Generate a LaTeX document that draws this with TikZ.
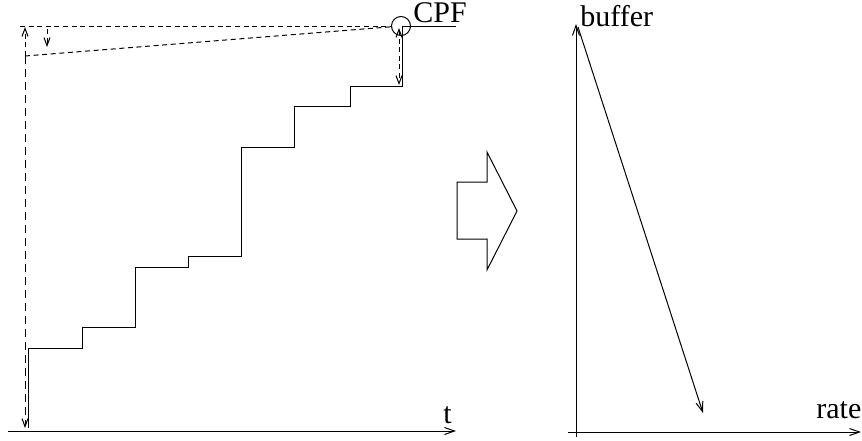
\documentclass[tikz,border=0pt]{standalone}
\usepackage{fontspec}
\setmainfont{Liberation Serif}
\usetikzlibrary{arrows.meta}

\begin{document}
\begin{tikzpicture}[
  x=0.5pt, y=-0.5pt,
  axis/.style   ={line width=0.5pt, -{Straight Barb[length=5pt,width=3.5pt]}},
  stair/.style  ={line width=0.5pt},
  dsh/.style    ={line width=0.5pt, dash pattern=on 2.5pt off 1.8pt},
  dsh_long/.style={line width=0.5pt, dash pattern=on 4pt off 2.5pt},
  barb/.style   ={-{Straight Barb[length=4pt,width=3pt]}},
  barbs/.style  ={{Straight Barb[length=4pt,width=3pt]}-{Straight Barb[length=4pt,width=3pt]}},
  lbl/.style    ={font=\fontsize{15}{17}\selectfont, inner sep=0pt, anchor=base west},
]
  \useasboundingbox (0,0) rectangle (862,440);

  % left: staircase over time
  \coordinate (t_org)   at (8,431);
  \coordinate (t_end)   at (456,431);
  \coordinate (top_l)   at (20,26);
  \coordinate (slope_l) at (25,56);
  \coordinate (up_l)    at (25,27);
  \coordinate (down_l)  at (25,428);
  \coordinate (v_top)   at (47,29);
  \coordinate (v_bot)   at (47,47);
  \coordinate (cpf)     at (401,26);
  \coordinate (gap_top) at (399,28);
  \coordinate (gap_bot) at (399,85);

  \node[draw, circle, line width=0.5pt, minimum size=9.5pt, inner sep=0pt] (cpf_ring) at (cpf) {};
  \node[lbl] (cpf_lbl) at (413,22)  {CPF};
  \node[lbl] (t_lbl)   at (443,423) {t};

  \draw[axis] (t_org) -- (t_end);
  \draw[stair] (28,428) -- (28,348) -- (82,348) -- (82,327) -- (135,327) -- (135,267)
    -- (188,267) -- (188,256) -- (241,256) -- (241,147) -- (294,147) -- (294,106)
    -- (350,106) -- (350,86) -- (402,86) -- (402,26) -- (456,26);

  \draw[dsh] (top_l) -- (cpf_ring);
  \draw[dsh] (slope_l) -- (cpf_ring);
  \draw[dsh, barb] (slope_l) -- (up_l);
  \draw[dsh_long, barb] (slope_l) -- (down_l);
  \draw[dsh, barb] (v_top) -- (v_bot);
  \draw[dsh, barbs] (gap_top) -- (gap_bot);

  % middle: big arrow
  \draw[stair] (457,182) -- (487,182) -- (487,152) -- (517,211) -- (487,270)
    -- (487,239) -- (457,239) -- cycle;

  % right: buffer vs rate
  \coordinate (y_bot) at (576,437);
  \coordinate (y_top) at (576,24);
  \coordinate (x_l)   at (568,432);
  \coordinate (x_r)   at (861,432);
  \coordinate (bl_a)  at (578,27);
  \coordinate (bl_b)  at (703,413);

  \node[lbl] (buf_lbl)  at (580,26)  {buffer};
  \node[lbl] (rate_lbl) at (816,418) {rate};

  \draw[axis] (y_bot) -- (y_top);
  \draw[axis] (x_l) -- (x_r);
  \draw[axis] (bl_a) -- (bl_b);
\end{tikzpicture}
\end{document}
